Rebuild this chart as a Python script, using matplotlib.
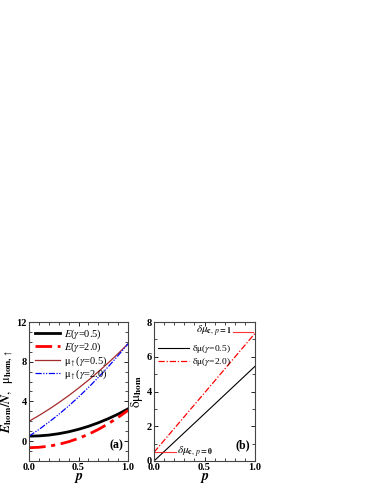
import matplotlib
matplotlib.use("Agg")
import matplotlib.pyplot as plt
from matplotlib.ticker import MultipleLocator

plt.rcParams['font.family'] = ['Liberation Serif', 'DejaVu Serif']
plt.rcParams['mathtext.fontset'] = 'stix'

# ---- data ----
p = [0.0, 0.1, 0.2, 0.3, 0.4, 0.5, 0.6, 0.7, 0.8, 0.9, 1.0]
E_g05 = [0.50, 0.53, 0.61, 0.75, 0.94, 1.19, 1.49, 1.85, 2.26, 2.72, 3.25]
E_g20 = [-0.66, -0.62, -0.51, -0.32, -0.06, 0.28, 0.69, 1.18, 1.75, 2.39, 3.10]
mu_g05 = [2.00, 2.58, 3.20, 3.87, 4.58, 5.34, 6.14, 6.99, 7.88, 8.82, 9.80]
mu_g20 = [0.50, 1.17, 1.91, 2.69, 3.54, 4.44, 5.40, 6.42, 7.49, 8.62, 9.80]

pb = [0.0, 0.5, 1.0]
dmu_g05 = [0.0, 2.72, 5.45]
dmu_g20 = [0.50, 3.92, 7.35]
dmu_c_p0_x = [0.0, 0.22]
dmu_c_p0_y = [0.5, 0.5]
dmu_c_p1_x = [0.78, 0.98]
dmu_c_p1_y = [7.45, 7.45]

fig = plt.figure(figsize=(3.74, 4.84), dpi=100)
axa = fig.add_axes([29/374, 23/484, 99/374, 139/484])
axb = fig.add_axes([154/374, 23/484, 101/374, 139/484])

axa.plot(p, E_g05, color='black', lw=2.0, label=r'$E$($\gamma$=0.5)')
axa.plot(p, E_g20, color='red', lw=2.0, dashes=(6, 2, 1.5, 2), label=r'$E$($\gamma$=2.0)')
axa.plot(p, mu_g05, color='#a52a2a', lw=0.9, label=r'$\mathrm{\mu}_{\uparrow}$($\gamma$=0.5)')
axa.plot(p, mu_g20, color='blue', lw=0.9, dashes=(5, 1.2, 1, 1.2, 1, 1.2), label=r'$\mathrm{\mu}_{\uparrow}$($\gamma$=2.0)')
axa.set_xlim(0, 1)
axa.set_ylim(-2, 12)
axa.xaxis.set_minor_locator(MultipleLocator(0.1))
axa.yaxis.set_major_locator(MultipleLocator(4))
axa.yaxis.set_minor_locator(MultipleLocator(1))
axa.set_xticks([0, 0.5, 1.0])
axa.set_xticklabels(['0.0', '0.5', '1.0'])
axa.set_xlabel(r'$\boldsymbol{p}$', fontsize=10, labelpad=-0.5)
axa.set_ylabel(r'$\boldsymbol{E}_{\mathbf{hom}}\mathbf{/}\boldsymbol{N},\ \ \mathrm{\mu}_{\mathbf{hom,}\uparrow}$',
               fontsize=9, labelpad=1)
axa.legend(loc='upper left', frameon=False, fontsize=7.5, handlelength=2.4,
           borderaxespad=0.15, labelspacing=-0.05, handletextpad=0.4)
axa.text(0.95, 0.07, '(a)', transform=axa.transAxes, ha='right', va='bottom',
         fontsize=8.5, fontweight='bold')

axb.plot(pb, dmu_g05, color='black', lw=0.8, label=r'$\mathrm{\delta\mu}$($\gamma$=0.5)')
axb.plot(pb, dmu_g20, color='red', lw=0.9, dashes=(5, 1.5, 1, 1.5), label=r'$\mathrm{\delta\mu}$($\gamma$=2.0)')
axb.plot(dmu_c_p0_x, dmu_c_p0_y, color='red', lw=0.8, alpha=0.8)
axb.plot(dmu_c_p1_x, dmu_c_p1_y, color='red', lw=0.8, alpha=0.8)
axb.set_xlim(0, 1)
axb.set_ylim(0, 8)
axb.xaxis.set_minor_locator(MultipleLocator(0.1))
axb.yaxis.set_major_locator(MultipleLocator(2))
axb.yaxis.set_minor_locator(MultipleLocator(1))
axb.set_xticks([0, 0.5, 1.0])
axb.set_xticklabels(['0.0', '0.5', '1.0'])
axb.set_xlabel(r'$\boldsymbol{p}$', fontsize=10, labelpad=-0.5)
axb.set_ylabel(r'$\mathrm{\delta\mu}_{\mathbf{hom}}$', fontsize=9.5, labelpad=1)
axb.legend(loc='upper left', bbox_to_anchor=(-0.04, 0.91), frameon=False, fontsize=6.8,
           handlelength=3.2, labelspacing=0.1, handletextpad=0.4)
axb.text(0.23, 0.5, r'$\delta\mu_{\mathbf{c},\,p\mathbf{=0}}$', transform=axb.transData,
         fontsize=8, va='center', ha='left')
axb.text(0.77, 7.45, r'$\delta\mu_{\mathbf{c},\,p\mathbf{=1}}$', transform=axb.transData,
         fontsize=8, va='center', ha='right')
axb.text(0.95, 0.07, '(b)', transform=axb.transAxes, ha='right', va='bottom',
         fontsize=8.5, fontweight='bold')

for ax in (axa, axb):
    ax.tick_params(which='both', direction='in', top=True, right=True)
    ax.tick_params(which='major', length=3, width=0.6, labelsize=7.5, pad=1.5)
    ax.tick_params(which='minor', length=2, width=0.5)
    for lab in ax.get_xticklabels() + ax.get_yticklabels():
        lab.set_fontweight('bold')
    for s in ax.spines.values():
        s.set_linewidth(0.8)
        s.set_color('#444444')

fig.savefig('out.png', dpi=100)
